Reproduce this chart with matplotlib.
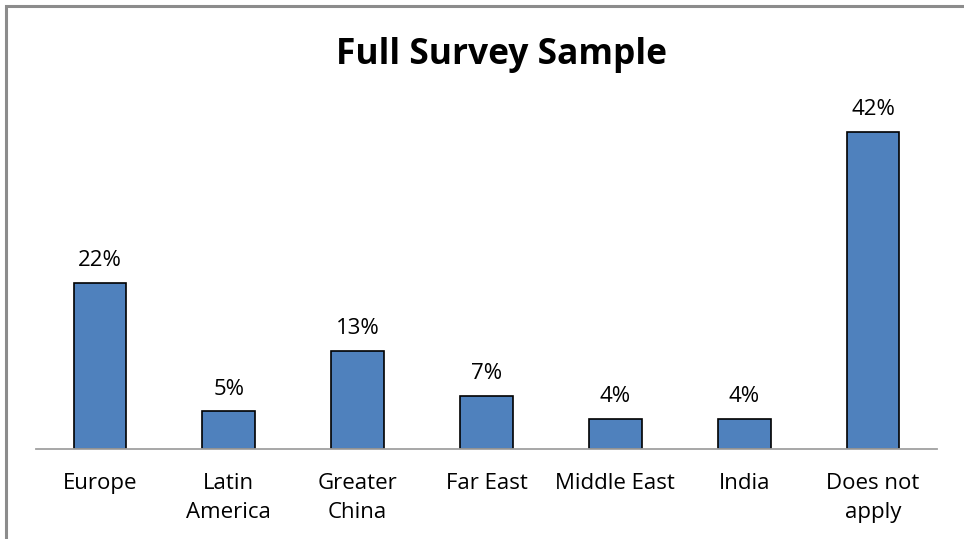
import matplotlib
matplotlib.use("Agg")
import matplotlib.pyplot as plt
from matplotlib.patches import Rectangle

# Data
regions = ["Europe", "Latin\nAmerica", "Greater\nChina", "Far East", "Middle East", "India", "Does not\napply"]
shares = [22, 5, 13, 7, 4, 4, 42]

plt.rcParams['font.family'] = ['Open Sans', 'DejaVu Sans']

fig = plt.figure(figsize=(9.64, 5.39), dpi=100)
ax = fig.add_axes([35.6 / 964, (539 - 449) / 539, (937.4 - 35.6) / 964, (449 - 109) / 539])

x = range(len(regions))
bars = ax.bar(x, shares, width=0.41, color='#4F81BD', edgecolor='black', linewidth=1.2)

for b, v in zip(bars, shares):
    ax.annotate(f'{v}%', (b.get_x() + b.get_width() / 2, v), xytext=(0, 12),
                textcoords='offset points', ha='center', va='baseline', fontsize=16)

ax.set_xlim(-0.5, len(regions) - 0.5)
ax.set_ylim(0, 45)
ax.set_xticks(list(x))
ax.set_xticklabels(regions, fontsize=16, linespacing=1.5)
ax.tick_params(axis='x', length=0, pad=17)
ax.set_yticks([])
for s in ['top', 'right', 'left']:
    ax.spines[s].set_visible(False)
ax.spines['bottom'].set_color('#A0A0A0')
ax.spines['bottom'].set_linewidth(1.3)

fig.text(0.52, 1 - 64 / 539, 'Full Survey Sample', ha='center', va='baseline', fontsize=25.5, fontweight='bold')

# outer chart border
fig.patches.append(Rectangle((6 / 964, -0.01), 1.0, (539 - 6) / 539 + 0.01, transform=fig.transFigure,
                             fill=False, edgecolor='#8C8C8C', linewidth=2.2))

fig.savefig('out.png', dpi=100)
